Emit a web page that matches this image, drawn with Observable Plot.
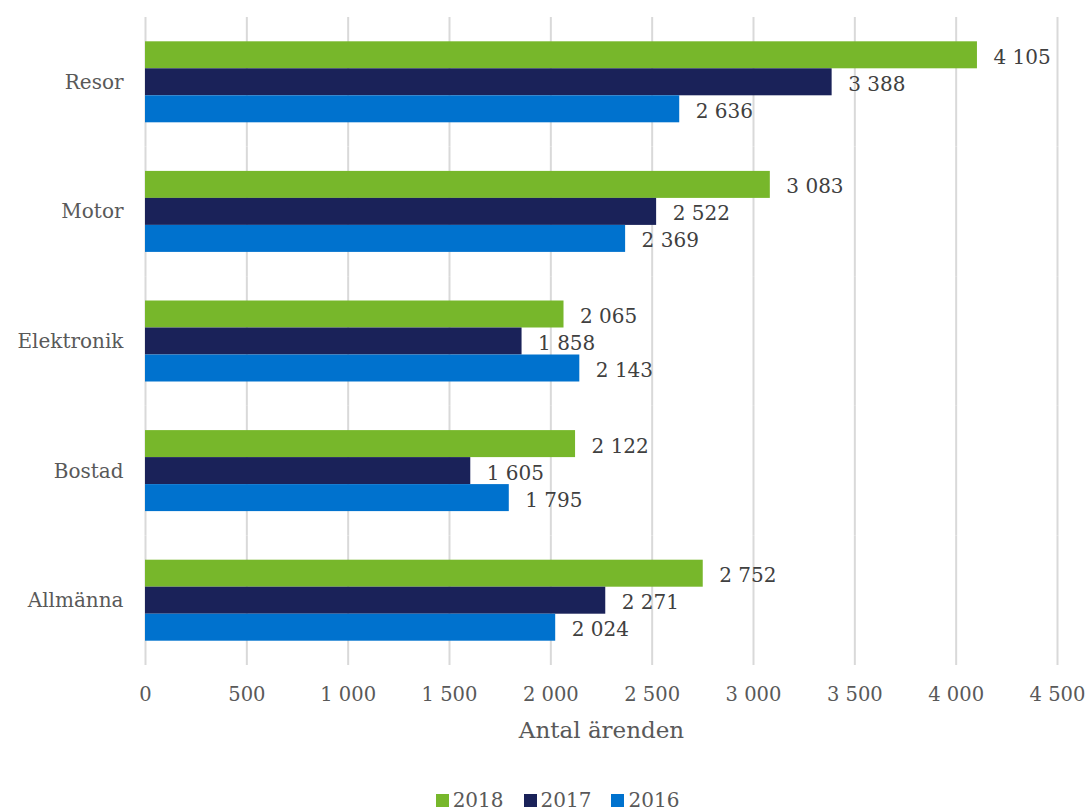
<!DOCTYPE html>
<html>
<head>
<meta charset="utf-8">
<script src="https://cdn.jsdelivr.net/npm/d3@7"></script>
<script src="https://cdn.jsdelivr.net/npm/@observablehq/plot@0.6"></script>
<style>
  html, body { margin: 0; padding: 0; background: #fff; }
  body { width: 1089px; height: 810px; overflow: hidden; font-family: "DejaVu Serif", serif; }
  #chart svg { display: block; }
  .legend { display: flex; justify-content: center; align-items: center; height: 32px; margin-top: 12px;
            font-family: "DejaVu Serif", serif; font-size: 20px; color: #595959; padding-left: 26px; }
  .legend .item { display: flex; align-items: center; margin: 0 10px; }
  .legend .sw { width: 13px; height: 13px; margin-right: 4px; }
</style>
</head>
<body>
<div id="chart"></div>
<div class="legend" id="legend"></div>
<script>
// Anmälda ärenden per försäkringsområde och år
const categories = ["Resor", "Motor", "Elektronik", "Bostad", "Allmänna"];
const years = ["2018", "2017", "2016"];
const values2018 = [4105, 3083, 2065, 2122, 2752];
const values2017 = [3388, 2522, 1858, 1605, 2271];
const values2016 = [2636, 2369, 2143, 1795, 2024];
const yearColors = ["#77b72b", "#1a2259", "#0072ce"];
const xTicks = [0, 500, 1000, 1500, 2000, 2500, 3000, 3500, 4000, 4500];
const xTitle = "Antal ärenden";

const series = {"2018": values2018, "2017": values2017, "2016": values2016};
const rows = [];
categories.forEach((c, i) => {
  years.forEach(y => rows.push({category: c, year: y, value: series[y][i]}));
});

// Space as thousands separator (Swedish style)
const fmt = d => d3.format(",")(d).replace(/,/g, " ");

const W = 1089, H = 772;
const chart = Plot.plot({
  width: W,
  height: H,
  marginLeft: 145,
  marginRight: 32,
  marginTop: 17,
  marginBottom: H - 665,
  style: {fontFamily: "DejaVu Serif, serif", color: "#595959", background: "#fff"},
  x: {domain: [0, 4500], ticks: xTicks},
  // contiguous facets; the year bars sit in the middle of each facet
  y: {domain: years, paddingInner: 0, paddingOuter: 0.9, round: false, axis: null},
  fy: {domain: categories, padding: 0, round: false},
  color: {domain: years, range: yearColors},
  marks: [
    Plot.ruleX(xTicks, {stroke: "#d9d9d9", strokeWidth: 2}),
    Plot.barX(rows, {x: "value", y: "year", fy: "category", fill: "year"}),
    Plot.text(rows, {
      x: "value", y: "year", fy: "category", text: d => fmt(d.value),
      textAnchor: "start", dx: 16, dy: 2, fontSize: 20, fill: "#404040"
    }),
    Plot.axisFy({anchor: "left", tickSize: 0, tickPadding: 22, fontSize: 20, label: null, fill: "#595959"}),
    Plot.axisX(xTicks, {
      anchor: "bottom", tickSize: 0, tickPadding: 22, fontSize: 19.5,
      tickFormat: fmt, label: null, fill: "#595959"
    }),
    Plot.text([xTitle], {
      facet: "super", frameAnchor: "bottom", dy: 72, fontSize: 23, fill: "#595959"
    })
  ]
});
document.getElementById("chart").appendChild(chart);

// Legend below the chart
const legend = document.getElementById("legend");
years.forEach((y, i) => {
  const item = document.createElement("div");
  item.className = "item";
  const sw = document.createElement("span");
  sw.className = "sw";
  sw.style.background = yearColors[i];
  const label = document.createElement("span");
  label.textContent = y;
  item.appendChild(sw);
  item.appendChild(label);
  legend.appendChild(item);
});
</script>
</body>
</html>
